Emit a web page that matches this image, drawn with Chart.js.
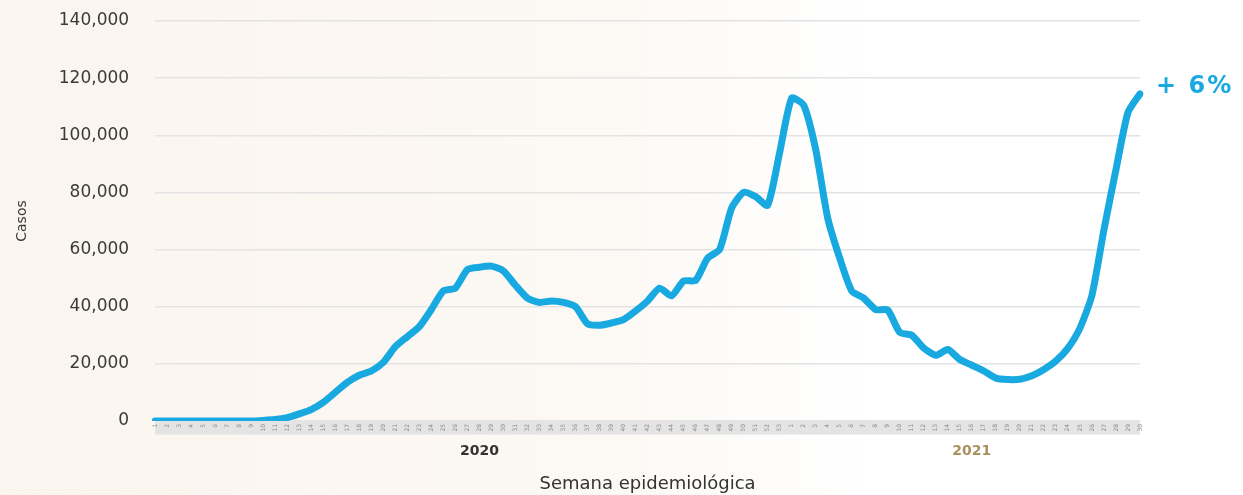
<!DOCTYPE html>
<html>
<head>
<meta charset="utf-8">
<script src="https://cdn.jsdelivr.net/npm/chart.js@4"></script>
<style>
    html, body { margin: 0; padding: 0; }
    body {
        width: 1243px; height: 495px; overflow: hidden;
        background: linear-gradient(to right, #fbf5ef 0%, #fcf8f3 45%, #ffffff 70%);
    }
    #wrap { position: relative; width: 1243px; height: 495px; }
</style>
</head>
<body>
<div id="wrap"><canvas id="casosChart"></canvas></div>
<script>
// semanas epidemiologicas
const weeks2020 = ['1','2','3','4','5','6','7','8','9','10','11','12','13','14','15','16','17','18','19','20',
    '21','22','23','24','25','26','27','28','29','30','31','32','33','34','35','36','37','38','39','40',
    '41','42','43','44','45','46','47','48','49','50','51','52','53'];
const weeks2021 = ['1','2','3','4','5','6','7','8','9','10','11','12','13','14','15','16','17','18','19','20',
    '21','22','23','24','25','26','27','28','29','30'];

// casos por semana
const casos2020 = [0, 0, 0, 0, 0, 0, 0, 0, 0, 200, 500, 1200, 2500, 4000, 6500, 10000, 13500, 16000, 17500, 20500,
    26000, 29500, 33000, 39000, 45500, 46500, 53000, 53800, 54200, 52500, 47500, 43000, 41500, 42000, 41500, 40000,
    34000, 33500, 34300, 35500, 38500, 42000, 46500, 43800, 49000, 49200, 57000, 60000, 74500, 80000, 78500, 75500, 94000];
const casos2021 = [113000, 110500, 95000, 71000, 57000, 45500, 43000, 39000, 38800, 31000, 30000, 25500, 23000, 25000,
    21500, 19500, 17500, 15000, 14500, 14600, 15800, 18000, 21000, 25500, 32500, 44000, 67000, 88000, 108000, 114500];

const yearLabels = { 27: '2020', 68: '2021' };
const cambio = '+ 6%';

const labels = weeks2020.concat(weeks2021);
const casos = casos2020.concat(casos2021);

const lineColor = '#18a9e1';

//draws the % change next to the last point
const endLabel = {
    id: 'endLabel',
    afterDatasetsDraw: function (chart) {
        const meta = chart.getDatasetMeta(0);
        const last = meta.data[meta.data.length - 1];
        const ctx = chart.ctx;
        ctx.save();
        ctx.font = 'bold 24px "DejaVu Sans"';
        ctx.letterSpacing = '2px';
        ctx.fillStyle = lineColor;
        ctx.textBaseline = 'middle';
        ctx.fillText(cambio, last.x + 16, last.y - 7);
        ctx.restore();
    }
};

const ctx = document.getElementById('casosChart').getContext('2d');
const casosChart = new Chart(ctx, {
    type: 'line',
    data: {
        labels: labels,
        datasets: [{
            label: 'Casos',
            data: casos,
            borderColor: lineColor,
            borderWidth: 7,
            pointRadius: 0,
            tension: 0.2,
            borderCapStyle: 'round',
            borderJoinStyle: 'round',
            fill: false
        }]
    },
    options: {
        responsive: true,
        maintainAspectRatio: false,
        animation: false,
        layout: {
            padding: { left: 14, right: 103, top: 21, bottom: 0 }
        },
        plugins: {
            legend: { display: false },
            tooltip: { enabled: false }
        },
        scales: {
            y: {
                min: 0,
                max: 140000,
                border: { display: false },
                grid: { color: '#e3e3e3', lineWidth: 1.5, drawTicks: true, tickLength: 23, tickColor: 'rgba(0,0,0,0)' },
                ticks: {
                    stepSize: 20000,
                    padding: 3,
                    color: '#3a3a3a',
                    font: { family: 'DejaVu Sans', size: 17 },
                    callback: function (v) { return v.toLocaleString('en-US'); }
                },
                title: {
                    display: true,
                    text: 'Casos',
                    color: '#3a3a3a',
                    font: { family: 'DejaVu Sans', size: 14 },
                    padding: { top: 0, bottom: 25 }
                }
            },
            x: {
                backgroundColor: '#e4e4e4',
                border: { display: false },
                grid: { display: false, drawTicks: false },
                ticks: {
                    autoSkip: false,
                    minRotation: 90,
                    maxRotation: 90,
                    padding: 3,
                    color: '#8a8a8a',
                    font: { family: 'DejaVu Sans', size: 6 }
                }
            },
            x2: {
                type: 'category',
                labels: labels,
                position: 'bottom',
                border: { display: false },
                grid: { display: false, drawTicks: false },
                ticks: {
                    autoSkip: false,
                    maxRotation: 0,
                    padding: 8,
                    color: function (c) { return c.index > 52 ? '#a8915f' : '#333333'; },
                    font: { family: 'DejaVu Sans', size: 14, weight: 'bold' },
                    callback: function (v, i) { return yearLabels[i] || ''; }
                },
                title: {
                    display: true,
                    text: 'Semana epidemiológica',
                    color: '#333333',
                    font: { family: 'DejaVu Sans', size: 18 },
                    padding: { top: 6, bottom: 0 }
                }
            }
        }
    },
    plugins: [endLabel]
});
</script>
</body>
</html>
